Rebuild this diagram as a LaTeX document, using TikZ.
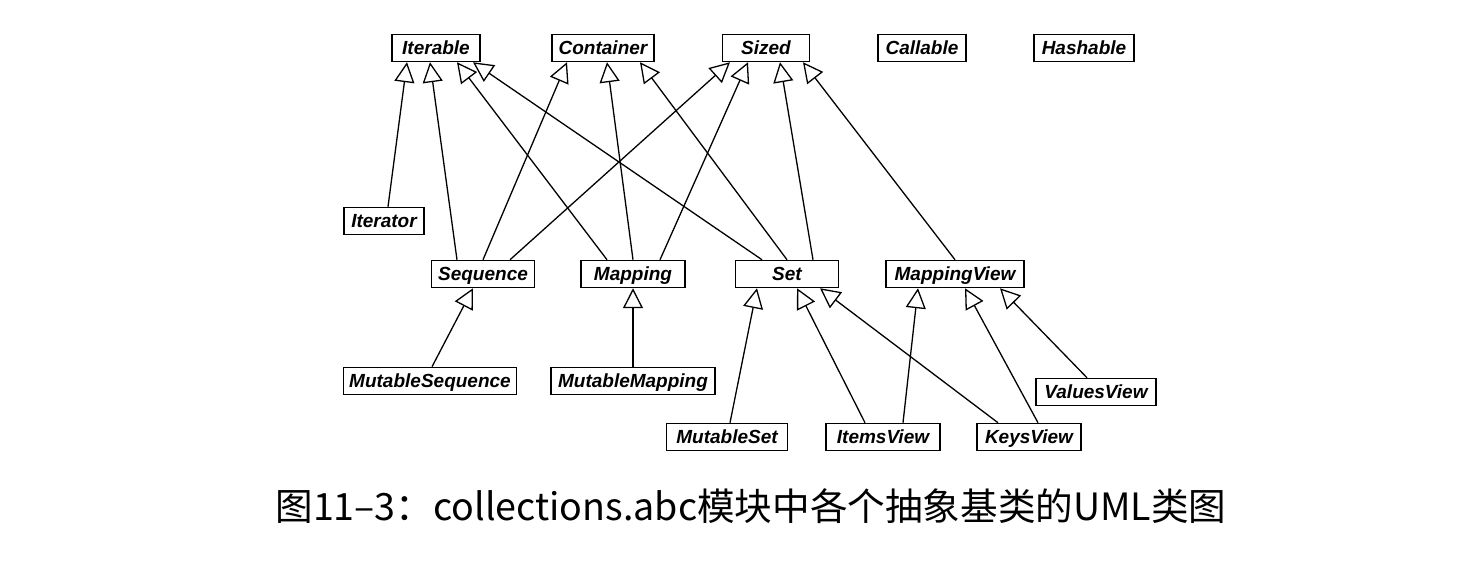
\documentclass[tikz,border=0pt]{standalone}
\usepackage{fontspec}
\setsansfont{Liberation Sans}
\newfontfamily\cjkfont{Noto Sans CJK SC}
\usetikzlibrary{calc,arrows.meta}

\begin{document}
\begin{tikzpicture}[
    x={(0.5pt,0pt)}, y={(0pt,-0.5pt)},
    every node/.style={font=\fontsize{9.5}{11}\selectfont\sffamily\bfseries\itshape},
    abcbox/.style={draw, line width=0.75pt, minimum height=13.5pt, inner sep=0pt,
      text height=7pt, text depth=0.5pt},
    isa/.style={line width=0.65pt, -{Triangle[open, length=10pt, width=10pt, line width=0.65pt]}},
  ]
    \useasboundingbox (0,0) rectangle (1462,566);

    % ---- top row ----
    \node[abcbox, minimum width=44pt]   (itbl) at (436,48)  {Iterable};
    \node[abcbox, minimum width=51pt]   (cont) at (603,48)  {Container};
    \node[abcbox, minimum width=43.5pt] (szd)  at (766,48)  {Sized};
    \node[abcbox, minimum width=44pt]   (call) at (922,48)  {Callable};
    \node[abcbox, minimum width=50pt]   (hash) at (1084,48) {Hashable};

    % ---- second row ----
    \node[abcbox, minimum width=40pt]   (itor)  at (384,221) {Iterator};
    \node[abcbox, minimum width=51.5pt] (seq)   at (483,274) {Sequence};
    \node[abcbox, minimum width=52pt]   (map)   at (633,274) {Mapping};
    \node[abcbox, minimum width=51.5pt] (set)   at (787,274) {Set};
    \node[abcbox, minimum width=69pt]   (mview) at (955,274) {MappingView};

    % ---- mutable and view classes ----
    \node[abcbox, minimum width=86.5pt] (mseq)  at (430,381)  {MutableSequence};
    \node[abcbox, minimum width=82pt]   (mmap)  at (633,381)  {MutableMapping};
    \node[abcbox, minimum width=60pt]   (vview) at (1096,392) {ValuesView};
    \node[abcbox, minimum width=60.5pt] (mset)  at (727,437)  {MutableSet};
    \node[abcbox, minimum width=57pt]   (iview) at (883,437)  {ItemsView};
    \node[abcbox, minimum width=52pt]   (kview) at (1029,437) {KeysView};

    % ---- inheritance: Iterable ----
    \draw[isa] ($(itor.north)+(4,0)$)  -- ($(itbl.south)+(-29,0)$);
    \draw[isa] ($(seq.north)+(-26,0)$) -- ($(itbl.south)+(-6,0)$);
    \draw[isa] ($(map.north)+(-26,0)$) -- ($(itbl.south)+(21,0)$);
    \draw[isa] ($(set.north)+(-25,0)$) -- ($(itbl.south)+(37,0)$);

    % ---- inheritance: Container ----
    \draw[isa] (seq.north) -- ($(cont.south)+(-36,0)$);
    \draw[isa] (map.north) -- ($(cont.south)+(4,0)$);
    \draw[isa] (set.north) -- ($(cont.south)+(37,0)$);

    % ---- inheritance: Sized ----
    \draw[isa] ($(seq.north)+(27,0)$) -- ($(szd.south)+(-36,0)$);
    \draw[isa] ($(map.north)+(27,0)$) -- ($(szd.south)+(-18,0)$);
    \draw[isa] ($(set.north)+(26,0)$) -- ($(szd.south)+(14,0)$);
    \draw[isa] (mview.north)          -- ($(szd.south)+(37,0)$);

    % ---- second level ----
    \draw[isa] ($(mseq.north)+(2,0)$)   -- ($(seq.south)+(-10,0)$);
    \draw[isa] (mmap.north)             -- (map.south);
    \draw[isa] ($(mset.north)+(3,0)$)   -- ($(set.south)+(-30,0)$);
    \draw[isa] ($(iview.north)+(-18,0)$) -- ($(set.south)+(10,0)$);
    \draw[isa] ($(kview.north)+(-31,0)$) -- ($(set.south)+(33,0)$);
    \draw[isa] ($(iview.north)+(20,0)$)  -- ($(mview.south)+(-37,0)$);
    \draw[isa] ($(kview.north)+(9,0)$)   -- ($(mview.south)+(10,0)$);
    \draw[isa] ($(vview.north)+(-9,0)$)  -- ($(mview.south)+(45,0)$);

    % ---- caption ----
    \node[font=\cjkfont\fontsize{18.8}{22}\selectfont] (capt) at (751,506)
      {图11–3：collections.abc模块中各个抽象基类的UML类图};
  \end{tikzpicture}
\end{document}
